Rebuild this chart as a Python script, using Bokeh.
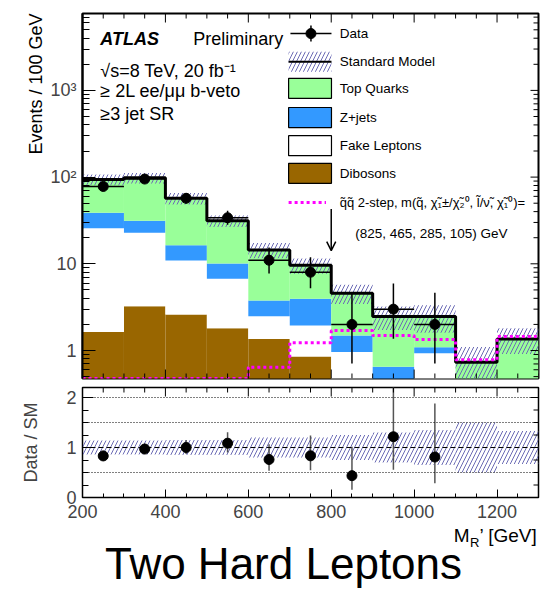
import numpy as np
from bokeh.plotting import figure
from bokeh.layouts import column
from bokeh.models import Range1d, FixedTicker, Label, Span, Arrow, OpenHead, Title
from bokeh.embed import file_html
from bokeh.resources import INLINE

# ---- binning in M_R' [GeV] -------------------------------------------------
bin_edges = [200, 300, 400, 500, 600, 700, 800, 900, 1000, 1100, 1200, 1300]

# ---- SM backgrounds (events / 100 GeV), stacked bottom to top ---------------
dibosons = [1.63, 3.24, 2.6, 1.81, 1.36, 0.85, 0.3, 0.2, 0.2, 0.1, 0.1]
fake_leptons = [24.1, 19.6, 8.3, 4.9, 1.13, 1.09, 0.66, 0.0, 0.73, 0.0, 0.0]
z_jets = [13.0, 8.5, 5.5, 3.4, 1.28, 2.01, 0.53, 0.45, 0.16, 0.1, 0.1]
top_quarks = [55.1, 66.7, 40.6, 21.2, 10.7, 5.65, 3.09, 1.82, 1.38, 0.53, 1.16]

# relative uncertainty on the SM total
sm_rel_unc = [0.14, 0.14, 0.15, 0.15, 0.2, 0.2, 0.25, 0.3, 0.35, 0.5, 0.33]

# ---- observed data with 68% CL Poisson intervals ----------------------------
data_counts = [78, 95, 57, 34, 11, 8, 2, 3, 2, 0, 0]
data_low = [69.2, 85.3, 49.5, 28.2, 7.74, 5.24, 0.71, 1.37, 0.71, 0, 0]
data_high = [87.9, 105.8, 65.6, 40.9, 15.4, 11.9, 4.64, 5.92, 4.64, 0, 0]

# ---- signal benchmark: squark pair, 2-step decay ---------------------------
signal = [0.0, 0.0, 0.0, 0.0, 0.64, 1.23, 1.7, 1.49, 1.34, 0.78, 1.45]

# signal-region cut and the arrow marking it
cut_value = 800
cut_arrow_from, cut_arrow_to = 43, 14.2

# ---- styling ---------------------------------------------------------------
FONT = "Liberation Sans"
GREEN, BLUE, BROWN = "#99ff99", "#3399ff", "#996600"
HATCH = "#6b6bb5"
MAGENTA = "#ff00ff"
HATCH_STYLE = dict(fill_alpha=0, line_color=None, hatch_pattern="/", hatch_color=HATCH,
                   hatch_scale=8, hatch_weight=1)

edges = np.array(bin_edges, dtype=float)
lefts, rights = edges[:-1], edges[1:]
centers = 0.5 * (lefts + rights)

layers = [(dibosons, BROWN), (fake_leptons, "white"), (z_jets, BLUE), (top_quarks, GREEN)]
total = np.sum([np.array(v) for v, _ in layers], axis=0)
rel = np.array(sm_rel_unc)

PAGE_H = 589
BORDER_L, BORDER_R = 82, 18
X_LO, X_HI = 200.0, 1300.0
Y_LO, Y_HI = 0.4756, 7709.0
R_LO, R_HI = 0.0, 2.2
FRAME_W, MAIN_H, RATIO_H = 456, 365, 110
MAIN_TOP, MAIN_BOTTOM, RATIO_TOP, RATIO_BOTTOM = 13, 4, 5, 29
FLOOR = 1e-3

x_major = list(range(200, 1201, 200))
x_minor = [v for v in range(200, 1301, 50) if v not in x_major]
y_major = [1, 10, 100, 1000]
y_minor = [m * 10.0 ** e for e in range(-1, 4) for m in range(2, 10)]
r_major = [0, 1, 2]
r_minor = [0.25, 0.5, 0.75, 1.25, 1.5, 1.75]

x_range = Range1d(X_LO, X_HI)


def style(fig, outline):
    fig.xgrid.grid_line_color = None
    fig.ygrid.grid_line_color = None
    fig.outline_line_color = "black" if outline else None
    fig.outline_line_width = outline or 1
    fig.background_fill_color = "white"
    fig.border_fill_color = "white"


def px_to_dx(px):
    return px * (X_HI - X_LO) / FRAME_W


# ---- upper panel ------------------------------------------------------------
main = figure(frame_width=FRAME_W, frame_height=MAIN_H, min_border_left=BORDER_L,
              min_border_right=BORDER_R, min_border_top=MAIN_TOP, min_border_bottom=MAIN_BOTTOM,
              x_range=x_range, y_range=Range1d(Y_LO, Y_HI), y_axis_type="log",
              output_backend="svg", toolbar_location=None)
style(main, 2)
main.xaxis.visible = False


def log_step(px):
    """Multiplicative factor covering px pixels on the log axis."""
    return (Y_HI / Y_LO) ** (px / MAIN_H)


# stacked backgrounds
bottom = np.full(len(lefts), FLOOR)
for vals, color in layers:
    top = bottom + np.array(vals)
    main.quad(left=lefts, right=rights, bottom=bottom, top=top,
              fill_color=color, line_color=None)
    bottom = top

# SM uncertainty band
main.quad(left=lefts, right=rights, bottom=np.maximum(total * (1 - rel), FLOOR),
          top=total * (1 + rel), **HATCH_STYLE)

# SM total
main.step(x=edges, y=np.append(total, total[-1]), mode="after",
          line_color="black", line_width=3)

# signal, drawn on the axis floor where it vanishes
sig = np.maximum(np.array(signal), Y_LO)
main.step(x=edges, y=np.append(sig, sig[-1]), mode="after",
          line_color=MAGENTA, line_width=3, line_dash="3 3")

# data
d = np.array(data_counts, dtype=float)
has = d > 0
main.segment(x0=centers[has], y0=np.array(data_low)[has], x1=centers[has],
             y1=np.array(data_high)[has], line_color="black", line_width=1.5)
main.segment(x0=lefts[has], y0=d[has], x1=rights[has], y1=d[has],
             line_color="black", line_width=1.5)
main.scatter(x=centers[has], y=d[has], size=10, color="black")

main.add_layout(Arrow(end=OpenHead(size=9, line_width=1.5), x_start=cut_value,
                      y_start=cut_arrow_from, x_end=cut_value, y_end=cut_arrow_to,
                      line_width=1.5))

# inward tick marks on bottom, top and right edges of the upper panel
for ticks, length in [(x_major, 9), (x_minor, 5)]:
    t = np.array(ticks, dtype=float)
    main.segment(x0=t, y0=np.full(len(t), Y_LO), x1=t, y1=np.full(len(t), Y_LO * log_step(length)),
                 line_color="black", line_width=1)
    main.segment(x0=t, y0=np.full(len(t), Y_HI), x1=t, y1=np.full(len(t), Y_HI / log_step(length)),
                 line_color="black", line_width=1)
for ticks, length in [(y_major, 8), (y_minor, 5)]:
    t = np.array([v for v in ticks if Y_LO < v < Y_HI])
    main.segment(x0=np.full(len(t), X_HI), y0=t, x1=np.full(len(t), X_HI - px_to_dx(length)), y1=t,
                 line_color="black", line_width=1)


def ndc(fx, fy):
    """Frame fractions to data coordinates of the upper panel."""
    return X_LO + fx * (X_HI - X_LO), Y_LO * (Y_HI / Y_LO) ** fy


def text(fig, fx, fy, s, size="18px", style_="normal", align="left"):
    x, y = ndc(fx, fy)
    fig.add_layout(Label(x=x, y=y, text=s, text_font=FONT, text_font_size=size,
                         text_font_style=style_, text_align=align,
                         text_baseline="middle", text_color="black"))


# labels in the top-left corner
text(main, 0.039, 0.930, "ATLAS", style_="bold italic")
text(main, 0.243, 0.930, "Preliminary")
text(main, 0.039, 0.842, "√s=8 TeV, 20 fb⁻¹")
text(main, 0.039, 0.788, "≥ 2L ee/μμ b-veto")
text(main, 0.039, 0.725, "≥3 jet SR")

# legend
LX0, LX1, LT = 0.452, 0.546, 0.564
HALF = 0.0274
rows = [0.945, 0.868, 0.795, 0.715, 0.638, 0.562, 0.482]

# Data entry
xa, ya = ndc(LX0 + 0.004, rows[0])
xb, _ = ndc(LX1, rows[0])
xc = 0.5 * (xa + xb)
_, yt = ndc(0, rows[0] + 0.022)
_, yb = ndc(0, rows[0] - 0.022)
main.segment(x0=[xa, xc], y0=[ya, yb], x1=[xb, xc], y1=[ya, yt], line_color="black", line_width=1.5)
main.scatter(x=[xc], y=[ya], size=10, color="black")
text(main, LT, rows[0], "Data", size="13.5px")

# Standard Model entry
xa, yb = ndc(LX0, rows[1] - HALF)
xb, yt = ndc(LX1, rows[1] + HALF)
_, ym = ndc(0, rows[1])
main.quad(left=[xa], right=[xb], bottom=[yb], top=[yt], **HATCH_STYLE)
main.segment(x0=[xa], y0=[ym], x1=[xb], y1=[ym], line_color="black", line_width=2)
text(main, LT, rows[1], "Standard Model", size="13.5px")

names = ["Top Quarks", "Z+jets", "Fake Leptons", "Dibosons"]
colors = [GREEN, BLUE, "white", BROWN]
for fy, name, color in zip(rows[2:6], names, colors):
    xa, yb = ndc(LX0, fy - HALF)
    xb, yt = ndc(LX1, fy + HALF)
    main.quad(left=[xa], right=[xb], bottom=[yb], top=[yt], fill_color=color,
              line_color="black", line_width=1.2)
    text(main, LT, fy, name, size="13.5px")

# signal entry
xa, ym = ndc(LX0, rows[6])
xb, _ = ndc(0.534, rows[6])
main.segment(x0=[xa], y0=[ym], x1=[xb], y1=[ym], line_color=MAGENTA, line_width=3, line_dash="3 3")
text(main, LT, rows[6], "q̃q̃ 2-step, m(q̃, χ̃₁±/χ̃₂⁰, l̃/ν̃, χ̃₁⁰)=", size="13px")
text(main, 0.765, 0.397, "(825, 465, 285, 105) GeV", size="13.5px", align="center")

# left axis of the upper panel
ax_left = main.yaxis[0]
ax_left.ticker = FixedTicker(ticks=y_major, minor_ticks=y_minor)
ax_left.major_label_overrides = {1: "1", 10: "10", 100: "10²", 1000: "10³"}
ax_left.major_label_text_font = FONT
ax_left.major_label_text_font_size = "18px"
ax_left.major_label_standoff = 6
ax_left.major_tick_in, ax_left.major_tick_out = 13, 0
ax_left.minor_tick_in, ax_left.minor_tick_out = 7, 0
ax_left.axis_line_width = 2

# y title of the upper panel, flush with the top of the frame
main.add_layout(Title(text="Events / 100 GeV", align="right", text_font=FONT,
                      text_font_size="18px", text_font_style="normal",
                      text_color="black", standoff=4), "left")

# ---- ratio panel ------------------------------------------------------------
ratio = figure(frame_width=FRAME_W, frame_height=RATIO_H, min_border_left=BORDER_L,
               min_border_right=BORDER_R, min_border_top=RATIO_TOP, min_border_bottom=RATIO_BOTTOM,
               x_range=x_range, y_range=Range1d(R_LO, R_HI),
               output_backend="svg", toolbar_location=None)
style(ratio, 1.5)

for level, dash in [(0.5, "1 2"), (1.5, "1 2"), (2.0, "1 2"), (1.0, "5 3")]:
    ratio.add_layout(Span(location=level, dimension="width", line_color="black",
                          line_width=1, line_dash=dash))

ratio.quad(left=lefts, right=rights, bottom=1 - rel, top=1 + rel, **HATCH_STYLE)

r_val = d[has] / total[has]
r_lo = np.array(data_low)[has] / total[has]
r_hi = np.array(data_high)[has] / total[has]
ratio.segment(x0=centers[has], y0=r_lo, x1=centers[has], y1=r_hi,
              line_color="#555555", line_width=1.5)
ratio.scatter(x=centers[has], y=r_val, size=10, color="black")

r_px = (R_HI - R_LO) / RATIO_H
for ticks, length in [(x_major, 9), (x_minor, 5)]:
    t = np.array(ticks, dtype=float)
    ratio.segment(x0=t, y0=np.full(len(t), R_HI), x1=t, y1=np.full(len(t), R_HI - length * r_px),
                  line_color="black", line_width=1)
for ticks, length in [(r_major, 8), (r_minor, 5)]:
    t = np.array(ticks, dtype=float)
    ratio.segment(x0=np.full(len(t), X_HI), y0=t, x1=np.full(len(t), X_HI - px_to_dx(length)), y1=t,
                  line_color="black", line_width=1)

rx = ratio.xaxis[0]
rx.ticker = FixedTicker(ticks=x_major, minor_ticks=x_minor)
rx.major_label_text_font = FONT
rx.major_label_text_font_size = "18px"
rx.major_label_standoff = 7
rx.major_tick_in, rx.major_tick_out = 8, 0
rx.minor_tick_in, rx.minor_tick_out = 4, 0

ry = ratio.yaxis[0]
ry.ticker = FixedTicker(ticks=r_major, minor_ticks=r_minor)
ry.major_label_text_font = FONT
ry.major_label_text_font_size = "18px"
ry.major_label_standoff = 6
ry.major_tick_in, ry.major_tick_out = 11, 0
ry.minor_tick_in, ry.minor_tick_out = 6, 0
ry.axis_label = "Data / SM"
ry.axis_label_text_font = FONT
ry.axis_label_text_font_size = "18px"
ry.axis_label_text_font_style = "normal"
ry.axis_label_standoff = 22

# ---- footer: x title and caption, in page pixel coordinates ---------------
top_px = MAIN_TOP + MAIN_H + MAIN_BOTTOM + RATIO_TOP + RATIO_H + RATIO_BOTTOM
footer = figure(frame_width=FRAME_W, frame_height=PAGE_H - top_px,
                min_border_left=BORDER_L, min_border_right=BORDER_R,
                min_border_top=0, min_border_bottom=0,
                x_range=Range1d(BORDER_L, BORDER_L + FRAME_W), y_range=Range1d(PAGE_H, top_px),
                output_backend="svg", toolbar_location=None)
style(footer, 0)
footer.xaxis.visible = False
footer.yaxis.visible = False

# M_R' [GeV], built from pieces for the subscript
for s, size, off, yv in [("’ [GeV]", "19px", 0, 535), ("R", "13px", -58, 542),
                         ("M", "19px", -68, 535)]:
    footer.add_layout(Label(x=537, y=yv, x_offset=off, text=s, text_font=FONT,
                            text_font_size=size, text_align="right",
                            text_baseline="middle", text_color="black"))

footer.add_layout(Label(x=283, y=563, text="Two Hard Leptons", text_font=FONT,
                        text_font_size="44px", text_align="center",
                        text_baseline="middle", text_color="black"))

layout = column(main, ratio, footer, spacing=0)
open("out.html", "w").write(file_html(layout, INLINE))
